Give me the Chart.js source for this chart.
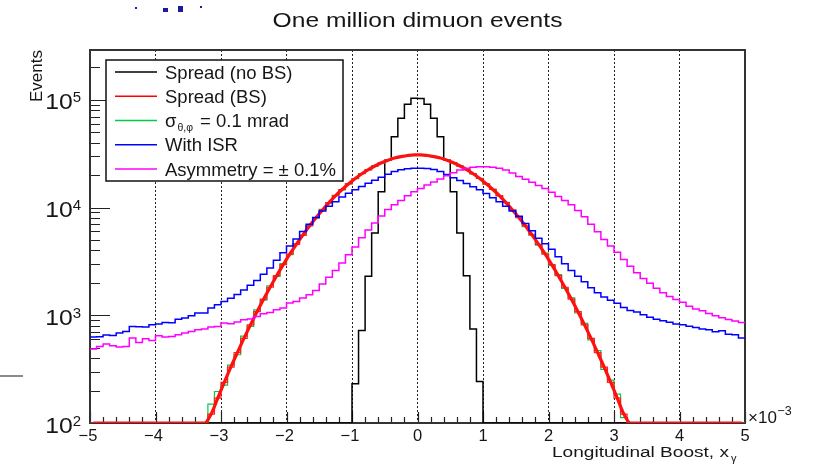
<!DOCTYPE html>
<html>
<head>
<meta charset="utf-8">
<title>Longitudinal boost</title>
<script src="https://cdn.jsdelivr.net/npm/chart.js@4.4.1/dist/chart.umd.min.js"></script>
<style>
  html, body { margin: 0; padding: 0; background: #fff; }
  #wrap { width: 813px; height: 465px; }
</style>
</head>
<body>
<div id="wrap"><canvas id="BoostChart" width="813" height="465"></canvas></div>
<script>
// histogram binning: 100 bins of 0.1 (x 1e-3) from -5 to 5
const binLow = [
    -5.0, -4.9, -4.8, -4.7, -4.6, -4.5, -4.4, -4.3, -4.2, -4.1,
    -4.0, -3.9, -3.8, -3.7, -3.6, -3.5, -3.4, -3.3, -3.2, -3.1,
    -3.0, -2.9, -2.8, -2.7, -2.6, -2.5, -2.4, -2.3, -2.2, -2.1,
    -2.0, -1.9, -1.8, -1.7, -1.6, -1.5, -1.4, -1.3, -1.2, -1.1,
    -1.0, -0.9, -0.8, -0.7, -0.6, -0.5, -0.4, -0.3, -0.2, -0.1,
    0.0, 0.1, 0.2, 0.3, 0.4, 0.5, 0.6, 0.7, 0.8, 0.9,
    1.0, 1.1, 1.2, 1.3, 1.4, 1.5, 1.6, 1.7, 1.8, 1.9,
    2.0, 2.1, 2.2, 2.3, 2.4, 2.5, 2.6, 2.7, 2.8, 2.9,
    3.0, 3.1, 3.2, 3.3, 3.4, 3.5, 3.6, 3.7, 3.8, 3.9,
    4.0, 4.1, 4.2, 4.3, 4.4, 4.5, 4.6, 4.7, 4.8, 4.9,
];
const binWidth = 0.1;
const xMin = -5;
const xMax = 5;

const spreadNoBS = [
    0, 0, 0, 0, 0, 0, 0, 0, 0, 0,
    0, 0, 0, 0, 0, 0, 0, 0, 0, 0,
    0, 0, 0, 0, 0, 0, 0, 0, 0, 0,
    0, 0, 0, 0, 0, 0, 0, 0, 0, 0,
    232, 723, 2300, 5790, 14000, 27500, 45500, 67500, 91000, 103500,
    103000, 91000, 67500, 45500, 27500, 14000, 5790, 2330, 745, 243,
    0, 0, 0, 0, 0, 0, 0, 0, 0, 0,
    0, 0, 0, 0, 0, 0, 0, 0, 0, 0,
    0, 0, 0, 0, 0, 0, 0, 0, 0, 0,
    0, 0, 0, 0, 0, 0, 0, 0, 0, 0,
];

const spreadBS = [
    0, 0, 0, 0, 0, 0, 0, 0, 0, 0,
    0, 0, 0, 0, 0, 0, 0, 0, 121, 170,
    238, 330, 450, 610, 815, 1080, 1410, 1820, 2330, 2950,
    3700, 4550, 5550, 6750, 8050, 9500, 11100, 12900, 14700, 16600,
    18600, 20600, 22500, 24300, 26000, 27500, 28800, 29700, 30400, 30800,
    30800, 30400, 29700, 28800, 27500, 26000, 24300, 22500, 20600, 18600,
    16600, 14700, 12900, 11100, 9500, 8050, 6750, 5550, 4550, 3700,
    2950, 2330, 1820, 1410, 1080, 815, 610, 450, 330, 238,
    170, 121, 0, 0, 0, 0, 0, 0, 0, 0,
    0, 0, 0, 0, 0, 0, 0, 0, 0, 0,
];

const angular01 = [
    0, 0, 0, 0, 0, 0, 0, 0, 0, 0,
    0, 0, 0, 0, 0, 0, 0, 0, 150, 196,
    225, 345, 430, 640, 790, 1120, 1380, 1880, 2290, 3020,
    3650, 4620, 5500, 6820, 8000, 9600, 11000, 13000, 14600, 16700,
    18500, 20700, 22400, 24400, 25900, 27600, 28700, 29800, 30300, 30900,
    30700, 30500, 29600, 28900, 27400, 26100, 24200, 22600, 20500, 18700,
    16500, 14800, 12800, 11200, 9400, 8150, 6650, 5650, 4480, 3780,
    2900, 2390, 1780, 1450, 1050, 840, 590, 470, 315, 250,
    185, 112, 0, 0, 0, 0, 0, 0, 0, 0,
    0, 0, 0, 0, 0, 0, 0, 0, 0, 0,
];

const withISR = [
    628, 632, 655, 648, 684, 708, 787, 782, 778, 816,
    830, 857, 850, 920, 942, 990, 1048, 1050, 1166, 1250,
    1343, 1440, 1560, 1720, 1900, 2100, 2400, 2750, 3250, 3800,
    4400, 5100, 6000, 7000, 8100, 9300, 10300, 11300, 12500, 13600,
    14600, 15700, 16800, 17900, 19100, 20400, 21600, 22400, 22900, 23200,
    23200, 23000, 22500, 21600, 20300, 18900, 17800, 16700, 15600, 14600,
    13500, 12300, 11300, 10300, 9300, 8300, 7100, 6100, 5200, 4600,
    4100, 3500, 3000, 2600, 2300, 2050, 1800, 1620, 1480, 1380,
    1290, 1180, 1110, 1070, 1010, 960, 920, 890, 860, 830,
    815, 790, 770, 745, 735, 705, 720, 665, 660, 615,
];

const asymmetry = [
    486, 514, 540, 521, 507, 512, 614, 560, 605, 584,
    645, 628, 636, 659, 684, 708, 734, 745, 777, 787,
    847, 834, 865, 908, 922, 975, 1033, 1062, 1125, 1166,
    1298, 1343, 1445, 1550, 1700, 1950, 2250, 2600, 3050, 3650,
    4300, 5250, 6180, 7200, 8350, 9600, 10600, 11650, 12900, 14000,
    15050, 16200, 17300, 18450, 19700, 21000, 22250, 23100, 23600, 23900,
    23900, 23700, 23200, 22250, 20900, 19450, 18300, 17200, 16050, 15050,
    13900, 12650, 11650, 10600, 9400, 8200, 7000, 5950, 5050, 4400,
    3850, 3300, 2850, 2480, 2200, 1980, 1780, 1620, 1490, 1400,
    1320, 1215, 1145, 1100, 1040, 990, 950, 915, 885, 855,
];

const xTickValues = [-5, -4, -3, -2, -1, 0, 1, 2, 3, 4, 5];
const xTickLabels = ["\u22125", "\u22124", "\u22123", "\u22122", "\u22121", "0", "1", "2", "3", "4", "5"];
const yTickExponents = [2, 3, 4, 5];
const yMin = 100;
const yMax = 290000;

const legendRows = [
    { text: "Spread (no BS)", color: "#000000" },
    { text: "Spread (BS)", color: "#ff0000" },
    { text: "\u03c3", sub: "\u03b8,\u03c6", rest: " = 0.1 mrad", color: "#00cc44" },
    { text: "With ISR", color: "#0000ff" },
    { text: "Asymmetry = \u00b1 0.1%", color: "#ff00ff" },
];

const FONT = '"Liberation Sans", Arial, Helvetica, sans-serif';
const INK = "#161616";

// bins below the axis minimum sit on the frame bottom, as ROOT draws them
function floorAt(v) {
    return Math.max(v, yMin);
}

// step outline: one point per lower bin edge, plus the closing upper edge
function histPoints(counts) {
    const pts = binLow.map((x, i) => ({ x: x, y: floorAt(counts[i]) }));
    pts.push({ x: xMax, y: floorAt(counts[counts.length - 1]) });
    return pts;
}

function centerPoints(counts) {
    return binLow.map((x, i) => ({ x: x + binWidth / 2, y: floorAt(counts[i]) }));
}

function text(ctx, s, x, y, size, align, sx) {
    ctx.save();
    ctx.font = size + "px " + FONT;
    ctx.textAlign = align;
    ctx.textBaseline = "alphabetic";
    ctx.fillStyle = INK;
    ctx.translate(x, y);
    ctx.scale(sx || 1, 1);
    ctx.fillText(s, 0, 0);
    ctx.restore();
}

function textWidth(ctx, s, size, sx) {
    ctx.save();
    ctx.font = size + "px " + FONT;
    const w = ctx.measureText(s).width * (sx || 1);
    ctx.restore();
    return w;
}

const rootFrame = {
    id: "rootFrame",
    beforeDatasetsDraw(chart) {
        const { ctx, chartArea: a, scales } = chart;
        const xs = scales.x;
        const ys = scales.y;

        ctx.save();
        // inward tick marks
        ctx.strokeStyle = "#222";
        ctx.lineWidth = 1.2;
        ctx.beginPath();
        for (let k = -50; k <= 50; k += 2) {
            const px = Math.round(xs.getPixelForValue(k / 10)) + 0.5;
            const len = k % 10 === 0 ? 11 : 6;
            ctx.moveTo(px, a.bottom);
            ctx.lineTo(px, a.bottom - len);
        }
        for (let e = 2; e <= 5; e++) {
            for (let m = 1; m <= 9; m++) {
                const v = m * Math.pow(10, e);
                if (v > yMax) break;
                const py = Math.round(ys.getPixelForValue(v)) + 0.5;
                const len = m === 1 ? 20 : 10;
                ctx.moveTo(a.left, py);
                ctx.lineTo(a.left + len, py);
            }
        }
        ctx.stroke();

        // frame, under the histograms
        ctx.strokeStyle = "#333";
        ctx.lineWidth = 2;
        ctx.strokeRect(a.left, a.top, a.right - a.left, a.bottom - a.top);
        ctx.restore();
    },
    afterDatasetsDraw(chart) {
        const { ctx } = chart;

        ctx.save();
        // legend box
        const lx = 106, ly = 60, lw = 237, lh = 121;
        ctx.fillStyle = "#fff";
        ctx.fillRect(lx, ly, lw, lh);
        ctx.strokeStyle = "#111";
        ctx.lineWidth = 1.5;
        ctx.strokeRect(lx, ly, lw, lh);
        legendRows.forEach((row, i) => {
            const cy = 72 + i * 24.25;
            ctx.strokeStyle = row.color;
            ctx.lineWidth = 1.3;
            ctx.beginPath();
            ctx.moveTo(115, cy);
            ctx.lineTo(157, cy);
            ctx.stroke();
            const base = cy + 6.5;
            text(ctx, row.text, 165, base, 18.5, "left");
            if (row.sub) {
                const w0 = textWidth(ctx, row.text, 18.5);
                text(ctx, row.sub, 166 + w0, base + 3.5, 10.5, "left");
                const w1 = textWidth(ctx, row.sub, 10.5);
                text(ctx, row.rest, 168 + w0 + w1, base, 18.5, "left");
            }
        });
        ctx.restore();
    },
    afterDraw(chart) {
        const { ctx, chartArea: a, scales } = chart;
        const xs = scales.x;
        const ys = scales.y;

        // title
        text(ctx, "One million dimuon events", (a.left + a.right) / 2, 26.5, 20.5, "center", 1.2);

        // y axis title, rotated and pushed to the top end
        ctx.save();
        ctx.translate(41.5, a.top);
        ctx.rotate(-Math.PI / 2);
        ctx.font = "17px " + FONT;
        ctx.fillStyle = INK;
        ctx.textAlign = "right";
        ctx.fillText("Events", 0, 0);
        ctx.restore();

        // y tick labels 10^n
        yTickExponents.forEach((e) => {
            const py = ys.getPixelForValue(Math.pow(10, e));
            const sup = String(e);
            const supW = textWidth(ctx, sup, 15);
            text(ctx, sup, 81, py + 2.5, 15, "right");
            text(ctx, "10", 81 - supW, py + 9.5, 21.5, "right", 1.15);
        });

        // x tick labels
        xTickValues.forEach((v, i) => {
            const px = xs.getPixelForValue(v);
            text(ctx, xTickLabels[i], px - (v < 0 ? 2 : 0), 441, 16.5, "center");
        });

        // x10^-3 multiplier
        const mx = a.right + 3;
        text(ctx, "\u00d710", mx, a.bottom, 17, "left");
        const mw = textWidth(ctx, "\u00d710", 17);
        text(ctx, "\u22123", mx + mw + 0.5, a.bottom - 8, 12.5, "left");

        // x axis title with subscript gamma
        text(ctx, "Longitudinal Boost, x", 729, 457, 15.5, "right", 1.23);
        text(ctx, "\u03b3", 731, 462, 11, "left");

        // stray marks at the page edge
        ctx.save();
        ctx.strokeStyle = "#8a8a8a";
        ctx.lineWidth = 2;
        ctx.beginPath();
        ctx.moveTo(0, 376);
        ctx.lineTo(23, 376);
        ctx.stroke();
        ctx.fillStyle = "#1c1c9a";
        ctx.fillRect(135, 7, 2, 2);
        ctx.fillRect(163, 8, 5, 4);
        ctx.fillRect(178, 6, 5, 6);
        ctx.fillRect(200, 6, 2, 2);
        ctx.restore();
    },
};

function BoostChart() {
    const ctx = document.getElementById("BoostChart");

    const histo = (label, counts, color, width, order) => ({
        label: label,
        data: histPoints(counts),
        borderColor: color,
        backgroundColor: color,
        borderWidth: width,
        stepped: true,
        fill: false,
        pointRadius: 0,
        order: order,
    });

    new Chart(ctx, {
        type: "line",
        data: {
            datasets: [
                histo("Asymmetry = \u00b1 0.1%", asymmetry, "#ff00ff", 1.5, 1),
                histo("With ISR", withISR, "#0000ff", 1.5, 2),
                {
                    label: "Spread (BS) curve",
                    data: centerPoints(spreadBS),
                    borderColor: "#ff1010",
                    borderWidth: 3.2,
                    cubicInterpolationMode: "monotone",
                    fill: false,
                    pointRadius: 0,
                    order: 3,
                },
                histo("Spread (BS)", spreadBS, "#ff2020", 1.2, 4),
                histo("sigma 0.1 mrad", angular01, "#00cc44", 1.2, 5),
                histo("Spread (no BS)", spreadNoBS, "#000000", 1.5, 6),
            ],
        },
        options: {
            responsive: false,
            animation: false,
            devicePixelRatio: 1,
            layout: {
                padding: { left: 90, right: 68, top: 50, bottom: 42 },
            },
            plugins: {
                legend: { display: false },
                tooltip: { enabled: false },
            },
            scales: {
                x: {
                    type: "linear",
                    min: xMin,
                    max: xMax,
                    ticks: { display: false, stepSize: 1 },
                    grid: {
                        display: true,
                        drawTicks: false,
                        color: "#222",
                        lineWidth: 1,
                    },
                    border: { display: false, dash: [2, 2] },
                },
                y: {
                    type: "logarithmic",
                    min: yMin,
                    max: yMax,
                    ticks: { display: false },
                    grid: { display: false, drawTicks: false },
                    border: { display: false },
                },
            },
        },
        plugins: [rootFrame],
    });
}

BoostChart();
</script>
</body>
</html>
